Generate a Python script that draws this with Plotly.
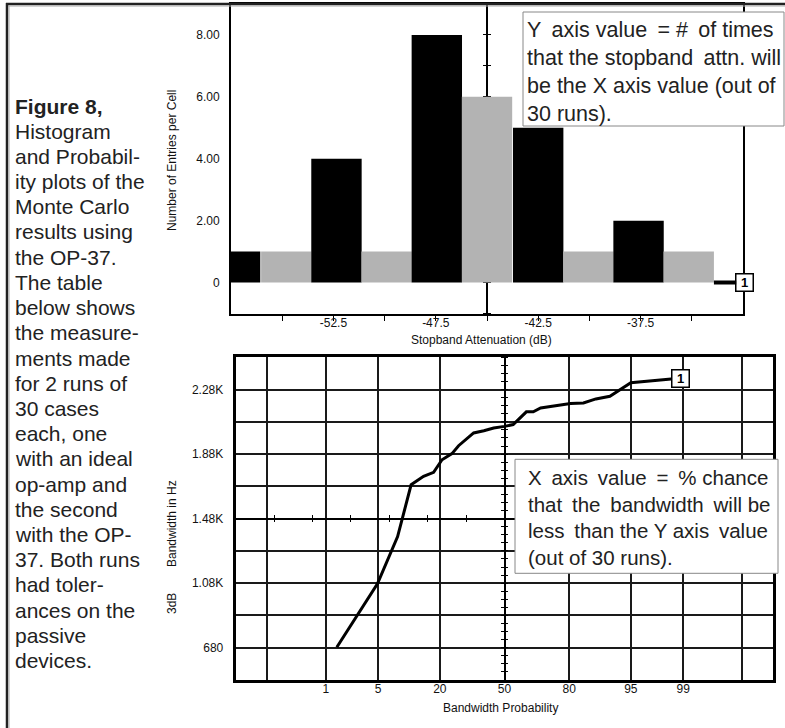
import statistics
import plotly.graph_objects as go

W, H = 785, 728
FONT = "Liberation Sans, Arial, sans-serif"
NARROW = "Liberation Sans Narrow, Arial Narrow, Liberation Sans, sans-serif"

# ---------------- data: histogram (top) ----------------
attn_cell_centers = [-57.3, -54.8, -52.35, -49.9, -47.45, -45.0, -42.5, -40.05, -37.6, -35.15]
entries_per_cell = [1, 1, 4, 1, 8, 6, 5, 1, 2, 1]
cell_width_db = 2.46
attn_range = [-57.5, -32.5]
attn_cross = -45.0
attn_tick_vals = [-55, -52.5, -50, -47.5, -45, -42.5, -40, -37.5, -35]
attn_tick_text = ["", "-52.5", "", "-47.5", "", "-42.5", "", "-37.5", ""]
count_range = [-1, 9]
count_tick_vals = [0, 2, 4, 6, 8]
count_tick_text = ["0", "2.00", "4.00", "6.00", "8.00"]

# ---------------- data: probability plot (bottom) ----------------
prob_pct = [1.45, 4.9, 8.2, 11.2, 14.6, 17.8, 20.8, 24.7, 27.5, 34.4, 39.4, 44.4,
            50.0, 54.5, 61.2, 64.6, 68.1, 80.5, 84.8, 88.3, 91.5, 95.0, 98.5]
bw_hz = [683, 1076, 1369, 1690, 1742, 1767, 1845, 1883, 1932, 2011, 2025, 2042,
         2052, 2063, 2142, 2142, 2166, 2193, 2197, 2222, 2238, 2322, 2346]
prob_grid_pct = [0.1, 1, 5, 20, 50, 80, 95, 99, 99.9]
prob_tick_text = ["", "1", "5", "20", "50", "80", "95", "99", ""]
bw_range = [480, 2480]
bw_cross = 1480
bw_tick_vals = [680, 880, 1080, 1280, 1480, 1680, 1880, 2080, 2280]
bw_tick_text = ["680", "", "1.08K", "", "1.48K", "", "1.88K", "", "2.28K"]

caption_lines = ["Figure 8,", "Histogram", "and Probabil-", "ity plots of the", "Monte Carlo",
                 "results using", "the OP-37.", "The table", "below shows", "the measure-",
                 "ments made", "for 2 runs of", "30 cases", "each, one", "with an ideal",
                 "op-amp and", "the second", "with the OP-", "37. Both runs", "had toler-",
                 "ances on the", "passive", "devices."]
TS = "\u2009"  # thin space, used to imitate the justified text of the notes
note_top = ("Y" + TS + " axis value" + TS + " = #" + TS + " of times<br>"
            "that the stopband" + TS + " attn. will<br>"
            "be the X axis value (out of<br>30 runs).")
note_bot = ("X" + TS + " axis" + TS + " value" + TS + " =" + TS + " % chance<br>"
            "that" + TS + " the" + TS + " bandwidth" + TS + " will be<br>"
            "less" + TS + " than the Y axis" + TS + " value<br>(out of 30 runs).")

# ---------------- helpers ----------------
nd = statistics.NormalDist()


def z(p):
    return nd.inv_cdf(p / 100.0)


def px(xp):
    return xp / W


def py(yp):
    return 1 - yp / H


z_range = [-3.5, 3.5]
top_xd = [px(231), px(743)]
top_yd = [py(313.5), py(4)]
bot_xd = [px(235.7), px(773.3)]
bot_yd = [py(680), py(357.3)]


def frac(v, rng, dom):
    return dom[0] + (v - rng[0]) / (rng[1] - rng[0]) * (dom[1] - dom[0])


top_cross_pos = frac(attn_cross, attn_range, top_xd)
bot_vcross_pos = frac(0.0, z_range, bot_xd)
bot_hcross_pos = frac(bw_cross, bw_range, bot_yd)

tickfont = dict(family=FONT, size=12, color="#111")

fig = go.Figure()

bar_colors = ["#000000" if i % 2 == 0 else "#b3b3b3" for i in range(len(entries_per_cell))]
fig.add_trace(go.Bar(x=attn_cell_centers, y=entries_per_cell, width=cell_width_db,
                     marker=dict(color=bar_colors, line=dict(width=0)),
                     xaxis="x", yaxis="y", showlegend=False, hoverinfo="skip"))

fig.add_trace(go.Scatter(x=[z(p) for p in prob_pct], y=bw_hz, mode="lines",
                         line=dict(color="black", width=3),
                         xaxis="x2", yaxis="y2", showlegend=False, hoverinfo="skip"))

# empty traces so that the crossing axes exist
for xa, ya in [("x", "y3"), ("x", "y4"), ("x2", "y5"), ("x2", "y6"), ("x3", "y2"), ("x4", "y2")]:
    fig.add_trace(go.Scatter(x=[], y=[], xaxis=xa, yaxis=ya, showlegend=False, hoverinfo="skip"))

cross_common = dict(showticklabels=False, showline=True, linecolor="black", linewidth=1.5,
                    ticks="outside", ticklen=3, tickwidth=1, tickcolor="black",
                    showgrid=False, zeroline=False, layer="below traces")

fig.update_layout(
    width=W, height=H, margin=dict(l=0, r=0, t=0, b=0),
    paper_bgcolor="white", plot_bgcolor="white", showlegend=False,
    font=dict(family=FONT, color="#111"),
    xaxis=dict(domain=top_xd, anchor="y", range=attn_range, tickmode="array",
               tickvals=attn_tick_vals, ticktext=attn_tick_text, ticks="outside", ticklen=5,
               tickwidth=1, tickcolor="black", showline=True, linecolor="black", linewidth=2,
               mirror=True, showgrid=False, zeroline=False, tickfont=tickfont,
               ticklabelstandoff=-8),
    yaxis=dict(domain=top_yd, anchor="x", range=count_range, tickmode="array",
               tickvals=count_tick_vals, ticktext=count_tick_text, ticks="",
               showline=True, linecolor="black", linewidth=2, mirror=True,
               showgrid=False, zeroline=False, tickfont=tickfont, ticklabelstandoff=7),
    yaxis3=dict(overlaying="y", anchor="free", position=top_cross_pos, side="left",
                range=count_range, tick0=0, dtick=1, **cross_common),
    yaxis4=dict(overlaying="y", anchor="free", position=top_cross_pos, side="right",
                range=count_range, tick0=0, dtick=1, **cross_common),
    xaxis2=dict(domain=bot_xd, anchor="y2", range=z_range, tickmode="array",
                tickvals=[z(p) for p in prob_grid_pct], ticktext=prob_tick_text, ticks="",
                showline=True, linecolor="black", linewidth=3, mirror=True,
                showgrid=True, gridcolor="#1a1a1a", gridwidth=1.5, zeroline=False,
                tickfont=tickfont, ticklabelstandoff=-4),
    yaxis2=dict(domain=bot_yd, anchor="x2", range=bw_range, tickmode="array",
                tickvals=bw_tick_vals, ticktext=bw_tick_text, ticks="",
                showline=True, linecolor="black", linewidth=3, mirror=True,
                showgrid=True, gridcolor="#1a1a1a", gridwidth=1.5, zeroline=False,
                tickfont=tickfont, ticklabelstandoff=7),
    yaxis5=dict(overlaying="y2", anchor="free", position=bot_vcross_pos, side="left",
                range=bw_range, tick0=bw_range[0], dtick=50, **cross_common),
    yaxis6=dict(overlaying="y2", anchor="free", position=bot_vcross_pos, side="right",
                range=bw_range, tick0=bw_range[0], dtick=50, **cross_common),
    xaxis3=dict(overlaying="x2", anchor="free", position=bot_hcross_pos, side="bottom",
                range=z_range, tick0=0, dtick=0.5, **cross_common),
    xaxis4=dict(overlaying="x2", anchor="free", position=bot_hcross_pos, side="top",
                range=z_range, tick0=0, dtick=0.5, **cross_common),
)

shapes = [
    # outer frame (top and left), with light inner shadow
    dict(type="line", xref="paper", yref="paper", x0=px(6), x1=1, y0=py(4), y1=py(4),
         line=dict(color="#222", width=2.5)),
    dict(type="line", xref="paper", yref="paper", x0=px(8.5), x1=1, y0=py(6), y1=py(6),
         line=dict(color="#aaa", width=1)),
    dict(type="line", xref="paper", yref="paper", x0=px(7), x1=px(7), y0=py(3), y1=0,
         line=dict(color="#222", width=2.5)),
    dict(type="line", xref="paper", yref="paper", x0=px(9), x1=px(9), y0=py(6), y1=0,
         line=dict(color="#aaa", width=1)),
    # note boxes
    dict(type="rect", xref="paper", yref="paper", x0=px(523), x1=px(784), y0=py(126), y1=py(12),
         fillcolor="white", line=dict(color="#888", width=1), layer="above"),
    dict(type="rect", xref="paper", yref="paper", x0=px(515), x1=px(778), y0=py(573.3), y1=py(459.3),
         fillcolor="white", line=dict(color="#888", width=1), layer="above"),
]
fig.update_layout(shapes=shapes)

ann = []
# caption on the left
for i, line in enumerate(caption_lines):
    txt = "<b>%s</b>" % line if i == 0 else line
    ann.append(dict(xref="paper", yref="paper", x=px(13), y=py(106 + i * 25.2), xanchor="left",
                    yanchor="middle", text=txt, showarrow=False,
                    font=dict(family=FONT, size=21, color="#222")))
# axis titles
title_font = dict(family=FONT, size=12, color="#111")
ytitle_font = dict(family=NARROW, size=12, color="#111")
ann.append(dict(xref="paper", yref="paper", x=px(172), y=py(161), xanchor="center", yanchor="middle",
                text="Number of Entries per Cell", textangle=-90, showarrow=False, font=ytitle_font))
ann.append(dict(xref="paper", yref="paper", x=px(481), y=py(340), xanchor="center", yanchor="middle",
                text="Stopband Attenuation (dB)", showarrow=False, font=title_font))
ann.append(dict(xref="paper", yref="paper", x=px(172), y=py(604), xanchor="center", yanchor="middle",
                text="3dB", textangle=-90, showarrow=False, font=ytitle_font))
ann.append(dict(xref="paper", yref="paper", x=px(172), y=py(524), xanchor="center", yanchor="middle",
                text="Bandwidth in Hz", textangle=-90, showarrow=False, font=ytitle_font))
ann.append(dict(xref="paper", yref="paper", x=px(500), y=py(708), xanchor="center", yanchor="middle",
                text="Bandwidth Probability", showarrow=False, font=title_font))
# notes
ann.append(dict(xref="paper", yref="paper", x=px(525), y=py(72.5), xanchor="left", yanchor="middle",
                align="left", text=note_top, showarrow=False,
                font=dict(family=FONT, size=21.5, color="#222")))
ann.append(dict(xref="paper", yref="paper", x=px(525.5), y=py(517), xanchor="left", yanchor="middle",
                align="left", text=note_bot, showarrow=False,
                font=dict(family=FONT, size=20.5, color="#222")))
# series labels "1"
lab = dict(text="<b>1</b>", bgcolor="white", bordercolor="black", borderwidth=1.5, borderpad=2,
           width=12, height=12, font=dict(family=FONT, size=13, color="black"))
ann.append(dict(xref="x", yref="y", x=attn_cell_centers[-1] + cell_width_db / 2, y=0,
                showarrow=True, arrowhead=0, arrowwidth=4, arrowcolor="black", ax=31, ay=0,
                standoff=0, **lab))
ann.append(dict(xref="x2", yref="y2", x=z(prob_pct[-1]), y=bw_hz[-1], xanchor="left",
                yanchor="middle", showarrow=False, **lab))
fig.update_layout(annotations=ann)

fig.write_html("out.html", config={"displayModeBar": False},
               post_script="document.body.style.margin='0';")
